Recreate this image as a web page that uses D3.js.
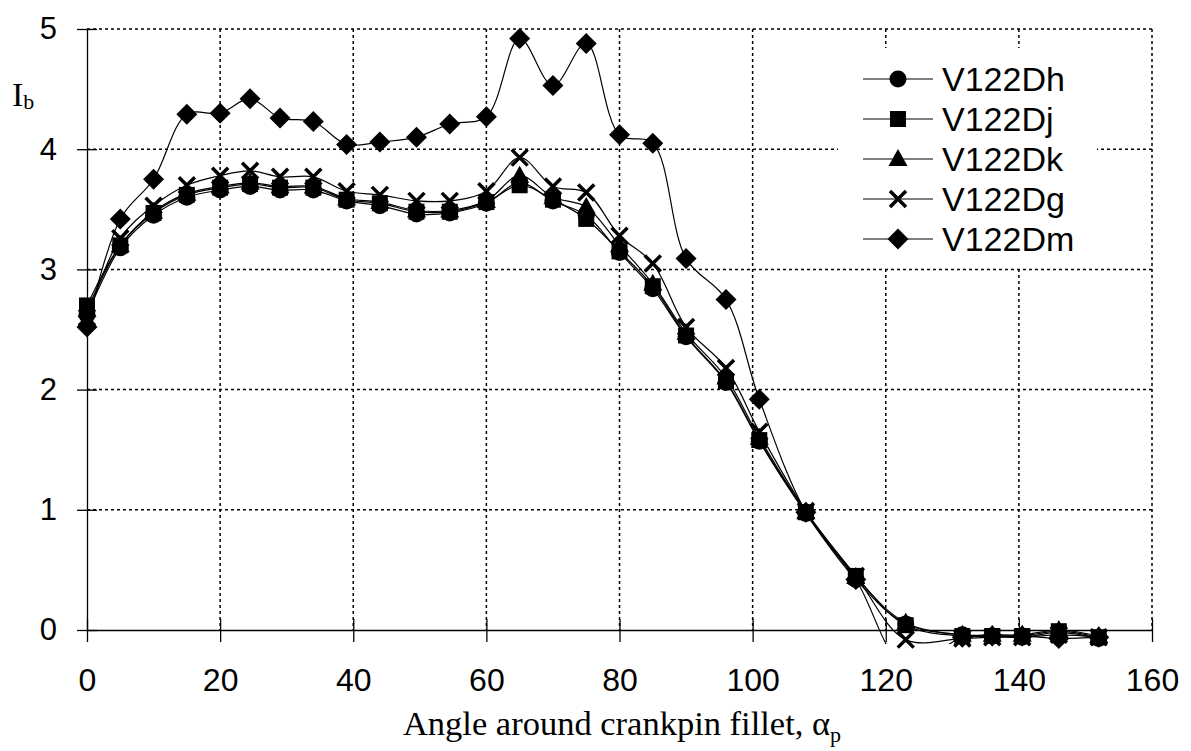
<!DOCTYPE html>
<html>
<head>
<meta charset="utf-8">
<script src="https://cdn.jsdelivr.net/npm/d3@7"></script>
<style>
  body { margin: 0; background: white; }
  svg { display: block; }
</style>
</head>
<body>
<svg id="chart" width="1191" height="751"></svg>
<script>
let width = 1191, height = 751;
let margin = {left: 87, right: 39, top: 29, bottom: 121};

let angles = [0, 5, 10, 15, 20, 24.5, 29, 34, 39, 44, 49.5, 54.5, 60, 65, 70, 75, 80, 85, 90, 96, 101, 108, 115.5, 123, 131.5, 136, 140.5, 146, 152];

let seriesNames = ["V122Dh", "V122Dj", "V122Dk", "V122Dg", "V122Dm"];
let markerTypes = ["circle", "square", "triangle", "cross", "diamond"];

let dh = [2.62, 3.18, 3.45, 3.60, 3.66, 3.69, 3.66, 3.66, 3.57, 3.53, 3.46, 3.47, 3.55, 3.72, 3.57, 3.45, 3.14, 2.84, 2.44, 2.06, 1.57, 0.97, 0.42, 0.05, -0.04, -0.05, -0.06, -0.02, -0.07];
let dj = [2.70, 3.20, 3.47, 3.62, 3.68, 3.71, 3.68, 3.68, 3.58, 3.55, 3.48, 3.48, 3.56, 3.70, 3.58, 3.42, 3.15, 2.86, 2.45, 2.07, 1.58, 0.98, 0.45, 0.04, -0.05, -0.05, -0.05, -0.01, -0.06];
let dk = [2.66, 3.20, 3.48, 3.63, 3.69, 3.72, 3.69, 3.69, 3.59, 3.56, 3.49, 3.49, 3.57, 3.78, 3.60, 3.52, 3.20, 2.88, 2.47, 2.10, 1.60, 0.98, 0.44, 0.06, -0.04, -0.04, -0.04, 0.00, -0.05];
let dg = [2.60, 3.26, 3.53, 3.70, 3.78, 3.82, 3.77, 3.77, 3.65, 3.62, 3.57, 3.57, 3.65, 3.93, 3.69, 3.64, 3.28, 3.05, 2.52, 2.18, 1.65, 0.99, 0.45, -0.08, -0.07, -0.06, -0.06, -0.04, -0.06];
let dm = [2.52, 3.42, 3.75, 4.29, 4.30, 4.42, 4.26, 4.23, 4.04, 4.06, 4.10, 4.21, 4.27, 4.92, 4.53, 4.88, 4.12, 4.05, 3.09, 2.75, 1.92, 0.98, 0.42, -0.30, -0.06, -0.05, -0.05, -0.07, -0.06];
let allSeries = [dh, dj, dk, dg, dm];

let xTicks = [0, 20, 40, 60, 80, 100, 120, 140, 160];
let yTicks = [0, 1, 2, 3, 4, 5];

let axisFont = "'Liberation Sans', Arial, sans-serif";
let titleFont = "'Liberation Serif', 'Times New Roman', serif";

let svg = d3.select("#chart");

let x = d3.scaleLinear().domain([0, 160]).range([margin.left, width - margin.right]);
let y = d3.scaleLinear().domain([0, 5]).range([height - margin.bottom, margin.top]);

// grid
let grid = svg.append("g")
  .attr("stroke", "black")
  .attr("stroke-width", 1.5)
  .attr("stroke-dasharray", "3,3");

grid.selectAll(".vgrid")
  .data(xTicks.filter(d => d > 0))
  .enter()
  .append("line")
  .attr("x1", d => x(d)).attr("x2", d => x(d))
  .attr("y1", y(5)).attr("y2", y(0));

grid.selectAll(".hgrid")
  .data(yTicks.filter(d => d > 0))
  .enter()
  .append("line")
  .attr("x1", x(0)).attr("x2", x(160))
  .attr("y1", d => y(d)).attr("y2", d => y(d));

// legend background hides the grid
let legendX = 838, legendY = 48;
svg.append("rect")
  .attr("x", legendX).attr("y", legendY)
  .attr("width", 259).attr("height", 218)
  .attr("fill", "white");

// axes
let xAxis = d3.axisBottom(x).tickValues(xTicks).tickSize(0).tickPadding(38);
let yAxis = d3.axisLeft(y).tickValues(yTicks).tickFormat(d3.format("d")).tickSize(0).tickPadding(30);

let gx = svg.append("g")
  .attr("transform", `translate(0, ${y(0)})`)
  .call(xAxis);
gx.select(".domain").attr("stroke", "black").attr("stroke-width", 1.3);
gx.selectAll("text")
  .attr("font-family", axisFont)
  .attr("font-size", 32)
  .attr("fill", "black");
gx.selectAll(".tick").append("line")
  .attr("y1", -11).attr("y2", 12)
  .attr("stroke", "black").attr("stroke-width", 1.3);

let gy = svg.append("g")
  .attr("transform", `translate(${x(0)}, 0)`)
  .call(yAxis);
gy.select(".domain").attr("stroke", "black").attr("stroke-width", 1.3);
gy.selectAll("text")
  .attr("font-family", axisFont)
  .attr("font-size", 31)
  .attr("fill", "black");
gy.selectAll(".tick").append("line")
  .attr("x1", -10).attr("x2", 10)
  .attr("stroke", "black").attr("stroke-width", 1.3);

// axis titles
let xt = svg.append("text")
  .attr("x", 622)
  .attr("y", 735)
  .attr("text-anchor", "middle")
  .attr("font-family", titleFont)
  .attr("font-size", 34.5)
  .text("Angle around crankpin fillet, ");
xt.append("tspan").text("α");
xt.append("tspan").attr("font-size", 22).attr("dy", 7).text("p");

let yt = svg.append("text")
  .attr("x", 12)
  .attr("y", 106)
  .attr("font-family", titleFont)
  .attr("font-size", 34)
  .text("I");
yt.append("tspan").attr("font-size", 22).attr("dy", 3).text("b");

// data
svg.append("clipPath")
  .attr("id", "plot-clip")
  .append("rect")
  .attr("x", x(0) - 5).attr("y", y(5) - 5)
  .attr("width", x(160) - x(0) + 10)
  .attr("height", y(0) - y(5) + 19);

let line = d3.line()
  .x((d, i) => x(angles[i]))
  .y(d => y(d))
  .curve(d3.curveCatmullRom.alpha(0.5));

let markerPaths = {
  circle: d3.symbol().type(d3.symbolCircle).size(Math.PI * 8.5 * 8.5)(),
  square: "M-8,-8H8V8H-8Z",
  triangle: "M0,-10L9.5,7H-9.5Z",
  diamond: "M0,-10.5L10.5,0L0,10.5L-10.5,0Z",
  cross: "M-8,-8L8,8M8,-8L-8,8"
};

function drawMarker(g, type) {
  let p = g.append("path").attr("d", markerPaths[type]);
  if (type == "cross") {
    p.attr("fill", "none").attr("stroke", "black").attr("stroke-width", 3.5);
  } else {
    p.attr("fill", "black");
  }
}

allSeries.forEach((vals, s) => {
  svg.append("path")
    .datum(vals)
    .attr("clip-path", "url(#plot-clip)")
    .attr("fill", "none")
    .attr("stroke", "black")
    .attr("stroke-width", 1.2)
    .attr("d", line);

  let pts = vals.map((v, i) => ({a: angles[i], v: v})).filter(d => d.v > -0.15);
  svg.selectAll(`.mk-${s}`)
    .data(pts)
    .enter()
    .append("g")
    .attr("class", `mk-${s}`)
    .attr("transform", d => `translate(${x(d.a)}, ${y(d.v)})`)
    .each(function() { drawMarker(d3.select(this), markerTypes[s]); });
});

// legend
let legend = svg.append("g")
  .attr("transform", `translate(${legendX}, ${legendY})`);

let rows = legend.selectAll(".legend-row")
  .data(seriesNames)
  .enter()
  .append("g")
  .attr("class", "legend-row")
  .attr("transform", (d, i) => `translate(0, ${31 + i * 40})`);

rows.append("line")
  .attr("x1", 25).attr("x2", 95)
  .attr("stroke", "black").attr("stroke-width", 1.2);

rows.each(function(d, i) {
  let g = d3.select(this).append("g").attr("transform", "translate(60, 0)");
  drawMarker(g, markerTypes[i]);
});

rows.append("text")
  .attr("x", 104)
  .attr("y", 12)
  .attr("font-family", axisFont)
  .attr("font-size", 34)
  .text(d => d);
</script>
</body>
</html>
